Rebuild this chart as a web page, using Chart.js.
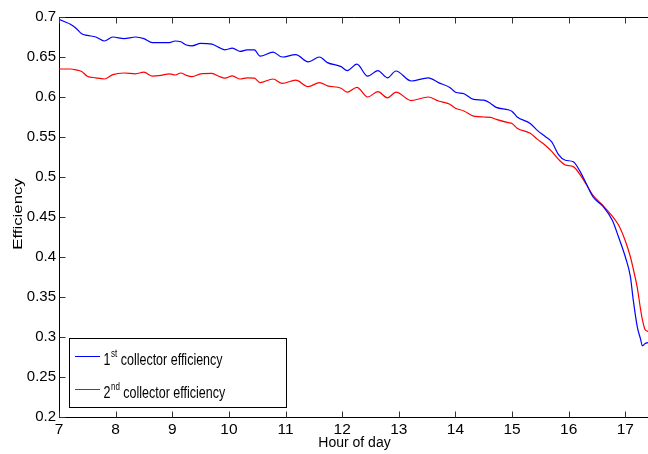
<!DOCTYPE html>
<html>
<head>
<meta charset="utf-8">
<script src="https://cdn.jsdelivr.net/npm/chart.js@4.4.1/dist/chart.umd.min.js"></script>
<style>
    html, body { margin: 0; padding: 0; background: #fff; }
    #wrap { width: 648px; height: 454px; }
</style>
</head>
<body>
<div id="wrap"><canvas id="chart" width="648" height="454"></canvas></div>
<script>
// Datos
const hours = [
    7.00, 7.10, 7.20, 7.30, 7.40, 7.50, 7.65, 7.80, 7.95, 8.15,
    8.35, 8.50, 8.65, 8.80, 8.95, 9.05, 9.15, 9.25, 9.35, 9.50,
    9.70, 9.82, 9.93, 10.06, 10.20, 10.32, 10.45, 10.55, 10.78, 10.94,
    11.18, 11.40, 11.60, 11.74, 11.98, 12.09, 12.26, 12.45, 12.63, 12.80,
    12.95, 13.22, 13.52, 13.70, 13.90, 14.00, 14.15, 14.32, 14.50, 14.62,
    14.72, 14.93, 15.00, 15.09, 15.32, 15.45, 15.58, 15.70, 15.82, 15.94,
    16.08, 16.20, 16.30, 16.43, 16.61, 16.77, 16.88, 17.00, 17.09, 17.14,
    17.21, 17.27, 17.30, 17.35, 17.40
];
const firstCollector = [
    0.697, 0.694, 0.691, 0.686, 0.679, 0.677, 0.675, 0.670, 0.675, 0.673,
    0.675, 0.673, 0.668, 0.668, 0.668, 0.670, 0.669, 0.665, 0.664, 0.667,
    0.666, 0.662, 0.659, 0.661, 0.657, 0.659, 0.659, 0.651, 0.656, 0.650,
    0.653, 0.644, 0.650, 0.643, 0.638, 0.633, 0.641, 0.626, 0.633, 0.624,
    0.6325, 0.620, 0.624, 0.618, 0.612, 0.606, 0.604, 0.597, 0.596, 0.592,
    0.587, 0.584, 0.582, 0.575, 0.567, 0.558, 0.551, 0.544, 0.528, 0.521,
    0.519, 0.507, 0.493, 0.475, 0.463, 0.446, 0.425, 0.400, 0.375, 0.346,
    0.313, 0.297, 0.289, 0.292, 0.293
];
const secondCollector = [
    0.635, 0.635, 0.635, 0.634, 0.632, 0.626, 0.624, 0.6225, 0.628, 0.630,
    0.629, 0.631, 0.626, 0.627, 0.629, 0.6275, 0.630, 0.627, 0.6255, 0.629,
    0.6295, 0.626, 0.6235, 0.6265, 0.6225, 0.624, 0.6235, 0.618, 0.6225, 0.617,
    0.621, 0.613, 0.618, 0.614, 0.611, 0.606, 0.612, 0.600, 0.6066, 0.599,
    0.606, 0.5955, 0.600, 0.595, 0.591, 0.586, 0.5825, 0.576, 0.575, 0.5746,
    0.572, 0.568, 0.567, 0.561, 0.5546, 0.547, 0.540, 0.532, 0.522, 0.515,
    0.513, 0.503, 0.492, 0.477, 0.464, 0.451, 0.440, 0.420, 0.400, 0.385,
    0.362, 0.334, 0.322, 0.309, 0.307
];
const xTicks = [7, 8, 9, 10, 11, 12, 13, 14, 15, 16, 17];
const yTicks = [0.2, 0.25, 0.3, 0.35, 0.4, 0.45, 0.5, 0.55, 0.6, 0.65, 0.7];
const yTickLabels = ['0.2', '0.25', '0.3', '0.35', '0.4', '0.45', '0.5', '0.55', '0.6', '0.65', '0.7'];
const seriesNames = ['collector efficiency', 'collector efficiency'];
const seriesOrdinals = [['1', 'st'], ['2', 'nd']];
const seriesColors = ['#0000ff', '#ff0000'];

const FONT = '"Liberation Sans", Arial, Helvetica, sans-serif';

function toPoints(xs, ys) {
    return xs.map(function(x, i) { return { x: x, y: ys[i] }; });
}

// Marco estilo MATLAB: borde superior, marcas hacia dentro, leyenda y títulos
const matlabFrame = {
    id: 'matlabFrame',
    afterDraw: function(chart) {
        const ctx = chart.ctx;
        const area = chart.chartArea;
        const xs = chart.scales.x;
        const ys = chart.scales.y;
        const left = Math.round(area.left) + 0.5;
        const top = Math.round(area.top) + 0.5;
        const bottom = Math.round(area.bottom) + 0.5;

        ctx.save();
        ctx.strokeStyle = '#000';
        ctx.lineWidth = 1;
        ctx.beginPath();
        ctx.moveTo(left, top);
        ctx.lineTo(area.right + 1, top);
        ctx.stroke();

        ctx.strokeStyle = '#333';
        ctx.beginPath();
        xTicks.forEach(function(v) {
            const px = Math.round(xs.getPixelForValue(v)) + 0.5;
            ctx.moveTo(px, bottom);
            ctx.lineTo(px, bottom - 6);
            ctx.moveTo(px, top);
            ctx.lineTo(px, top + 6);
        });
        yTicks.forEach(function(v) {
            const py = Math.round(ys.getPixelForValue(v)) + 0.5;
            ctx.moveTo(left, py);
            ctx.lineTo(left + 6, py);
        });
        ctx.stroke();

        // Leyenda
        const lx = 69.5, ly = 338.5, lw = 217, lh = 69;
        ctx.fillStyle = '#fff';
        ctx.fillRect(lx, ly, lw, lh);
        ctx.strokeStyle = '#000';
        ctx.strokeRect(lx, ly, lw, lh);

        const rows = [356.5, 389.5];
        const baselines = [364.5, 397.5];
        rows.forEach(function(ry, i) {
            ctx.strokeStyle = seriesColors[i];
            ctx.beginPath();
            ctx.moveTo(75, ry);
            ctx.lineTo(100, ry);
            ctx.stroke();

            ctx.fillStyle = '#000';
            ctx.textAlign = 'left';
            ctx.textBaseline = 'alphabetic';
            ctx.save();
            ctx.translate(103.5, baselines[i]);
            ctx.scale(1, 1.25);
            ctx.font = '12.5px ' + FONT;
            ctx.fillText(seriesOrdinals[i][0], 0, 0);
            let w = ctx.measureText(seriesOrdinals[i][0]).width;
            ctx.font = '8px ' + FONT;
            ctx.fillText(seriesOrdinals[i][1], w + 0.5, -6);
            w += ctx.measureText(seriesOrdinals[i][1]).width + 4;
            ctx.font = '12.5px ' + FONT;
            ctx.fillText(seriesNames[i], w, 0);
            ctx.restore();
        });

        // Títulos de ejes
        ctx.fillStyle = '#000';
        ctx.font = '14px ' + FONT;
        ctx.textAlign = 'center';
        ctx.textBaseline = 'alphabetic';
        ctx.fillText('Hour of day', (area.left + area.right) / 2 + 1, 447);

        ctx.save();
        ctx.translate(18, 214);
        ctx.rotate(-Math.PI / 2);
        ctx.scale(1.29, 1);
        ctx.font = '13px ' + FONT;
        ctx.textBaseline = 'middle';
        ctx.fillText('Efficiency', 0, 0);
        ctx.restore();

        ctx.restore();
    }
};

new Chart(document.getElementById('chart'), {
    type: 'line',
    data: {
        datasets: [{
            label: '1st collector efficiency',
            data: toPoints(hours, firstCollector),
            borderColor: seriesColors[0],
            borderWidth: 1.2,
            pointRadius: 0,
            cubicInterpolationMode: 'monotone',
            fill: false
        }, {
            label: '2nd collector efficiency',
            data: toPoints(hours, secondCollector),
            borderColor: seriesColors[1],
            borderWidth: 1.2,
            pointRadius: 0,
            cubicInterpolationMode: 'monotone',
            fill: false
        }]
    },
    options: {
        responsive: false,
        animation: false,
        devicePixelRatio: 1,
        layout: { padding: { top: 17, right: 0, left: 0, bottom: 0 } },
        plugins: {
            legend: { display: false },
            tooltip: { enabled: false }
        },
        scales: {
            x: {
                type: 'linear',
                min: 7,
                max: 17.4,
                afterBuildTicks: function(scale) {
                    scale.ticks = xTicks.map(function(v) { return { value: v }; });
                },
                afterFit: function(scale) { scale.height = 37; },
                grid: { display: false, drawTicks: false },
                border: { display: true, color: '#000', width: 1 },
                ticks: {
                    color: '#000',
                    padding: 3,
                    maxRotation: 0,
                    autoSkip: false,
                    font: { family: FONT, size: 15.5 },
                    callback: function(v) { return String(v); }
                }
            },
            y: {
                min: 0.2,
                max: 0.7,
                afterBuildTicks: function(scale) {
                    scale.ticks = yTicks.map(function(v) { return { value: v }; });
                },
                afterFit: function(scale) { scale.width = 59; },
                grid: { display: false, drawTicks: false },
                border: { display: true, color: '#000', width: 1 },
                ticks: {
                    color: '#000',
                    padding: 3,
                    autoSkip: false,
                    font: { family: FONT, size: 15 },
                    callback: function(v, i) { return yTickLabels[i]; }
                }
            }
        }
    },
    plugins: [matlabFrame]
});
</script>
</body>
</html>
